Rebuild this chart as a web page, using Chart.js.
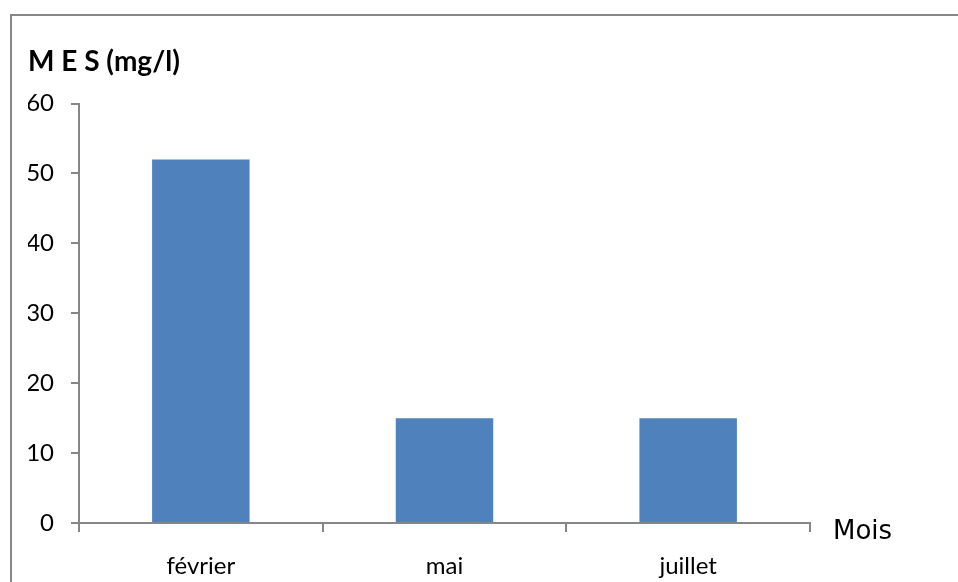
<!DOCTYPE html>
<html lang="fr">
<head>
<meta charset="utf-8">
<script src="https://cdn.jsdelivr.net/npm/chart.js@4.4.1/dist/chart.umd.min.js"></script>
<style>
  html, body { margin: 0; padding: 0; background: #fff; overflow: hidden; }
  #wrap { position: relative; width: 958px; height: 582px; }
  #frame {
    position: absolute; left: 10px; top: 14px; width: 1200px; height: 1200px;
    border-left: 2px solid #878787; border-top: 2px solid #878787;
    box-sizing: border-box; pointer-events: none;
  }
  canvas { position: absolute; left: 0; top: 0; }
</style>
</head>
<body>
<div id="wrap">
  <div id="frame"></div>
  <canvas id="chart" width="958" height="582"></canvas>
</div>
<script>
// Suspended solids (MES) measured per month
const months = ['février', 'mai', 'juillet'];
const mesValues = [52, 15, 15];
const yTicks = [0, 10, 20, 30, 40, 50, 60];

const axisColor = '#868686';
const barColor = '#4F81BD';

// Axis title "Mois" placed just right of the end of the category axis
const moisLabel = {
  id: 'moisLabel',
  afterDraw(chart) {
    const { ctx, chartArea } = chart;
    ctx.save();
    ctx.font = '26px "DejaVu Sans"';
    ctx.fillStyle = '#000';
    ctx.textAlign = 'left';
    ctx.textBaseline = 'middle';
    ctx.fillText('Mois', chartArea.right + 23, chartArea.bottom + 9);
    ctx.restore();
  }
};

new Chart(document.getElementById('chart'), {
  type: 'bar',
  data: {
    labels: months,
    datasets: [{
      label: 'M E S (mg/l)',
      data: mesValues,
      backgroundColor: barColor,
      borderWidth: 0,
      categoryPercentage: 1,
      barPercentage: 0.4
    }]
  },
  options: {
    responsive: false,
    animation: false,
    devicePixelRatio: 1,
    layout: { padding: { left: 28, right: 148, top: 0, bottom: 0 } },
    plugins: {
      legend: { display: false },
      tooltip: { enabled: false },
      title: {
        display: true,
        text: 'M E S (mg/l)',
        align: 'start',
        color: '#000',
        font: { family: 'Lato', size: 28, weight: 'bold', lineHeight: 1.2 },
        padding: { top: 45, bottom: 25 }
      }
    },
    scales: {
      x: {
        offset: true,
        afterFit(scale) { scale.height = 59; },
        border: { display: true, color: axisColor, width: 2 },
        grid: {
          offset: true,
          drawOnChartArea: false,
          drawTicks: true,
          tickLength: 9,
          color: axisColor,
          lineWidth: 2
        },
        ticks: {
          color: '#000',
          padding: 20,
          font: { family: 'Lato', size: 24 }
        }
      },
      y: {
        min: 0,
        max: 60,
        afterFit(scale) { scale.width = 51; },
        afterBuildTicks(scale) { scale.ticks = yTicks.map(v => ({ value: v })); },
        border: { display: true, color: axisColor, width: 2 },
        grid: {
          drawOnChartArea: false,
          drawTicks: true,
          tickLength: 8,
          color: axisColor,
          lineWidth: 2
        },
        ticks: {
          color: '#000',
          padding: 17,
          font: { family: 'Lato', size: 24 }
        }
      }
    }
  },
  plugins: [moisLabel]
});
</script>
</body>
</html>
